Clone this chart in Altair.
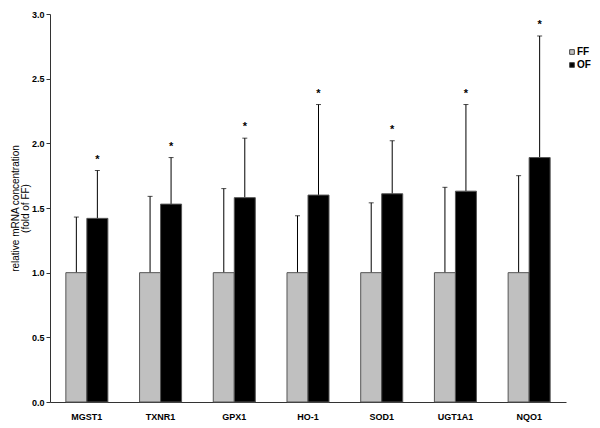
import altair as alt
import pandas as pd

genes = ["MGST1", "TXNR1", "GPX1", "HO-1", "SOD1", "UGT1A1", "NQO1"]
ff_mean = [1.0, 1.0, 1.0, 1.0, 1.0, 1.0, 1.0]
ff_upper = [1.43, 1.59, 1.65, 1.44, 1.54, 1.66, 1.75]
of_mean = [1.42, 1.53, 1.58, 1.60, 1.61, 1.63, 1.89]
of_upper = [1.79, 1.89, 2.04, 2.30, 2.02, 2.30, 2.83]
groups = ["FF", "OF"]

rows = []
for i, g in enumerate(genes):
    rows.append({"gene": g, "group": "FF", "value": ff_mean[i], "upper": ff_upper[i], "star": None})
    rows.append({"gene": g, "group": "OF", "value": of_mean[i], "upper": of_upper[i], "star": of_upper[i] + 0.1})
df = pd.DataFrame(rows)

font = "Liberation Sans"
xenc = alt.X("gene:N", sort=genes, scale=alt.Scale(paddingInner=0.43, paddingOuter=0.215),
             axis=alt.Axis(title=None, ticks=False, labelAngle=0, labelFont=font, labelFontWeight="bold",
                           labelFontSize=9, labelColor="#000", labelPadding=10,
                           domainColor="#333", domainWidth=1))
xoff = alt.XOffset("group:N", scale=alt.Scale(domain=groups, paddingInner=0, paddingOuter=0))
yscale = alt.Scale(domain=[0, 3])

base = alt.Chart(df)

rules = base.mark_rule(color="#000", strokeWidth=1).encode(
    x=xenc, xOffset=xoff,
    y=alt.Y("value:Q", scale=yscale),
    y2="upper:Q",
)
caps = base.mark_tick(color="#000", size=5, thickness=1, orient="horizontal").encode(
    x=xenc, xOffset=xoff, y=alt.Y("upper:Q", scale=yscale),
)
bars = base.mark_bar(stroke="#555", strokeWidth=1).encode(
    x=xenc, xOffset=xoff,
    y=alt.Y("value:Q", scale=yscale,
            axis=alt.Axis(title=["relative mRNA concentration", "(fold of FF)"], values=[0, 0.5, 1, 1.5, 2, 2.5, 3],
                          format=".1f", grid=False, labelFont=font, labelFontWeight="bold", labelFontSize=9,
                          labelColor="#000", tickSize=4, tickColor="#333", domainColor="#333",
                          titleFont=font, titleFontWeight="normal", titleFontSize=10, titleColor="#000",
                          titleLineHeight=10, titlePadding=1)),
    fill=alt.Fill("group:N", scale=alt.Scale(domain=groups, range=["#c0c0c0", "#000000"]),
                  legend=alt.Legend(title=None, orient="none", legendX=517, legendY=33,
                                    symbolType="square", symbolSize=22, symbolStrokeColor="#444",
                                    symbolStrokeWidth=1, labelFont=font, labelFontWeight="bold",
                                    labelFontSize=10, labelColor="#000", rowPadding=3, labelOffset=0)),
)
stars = base.transform_filter("datum.star != null").mark_text(text="*", font=font, fontWeight="bold",
                                                              fontSize=11, baseline="middle", dy=2).encode(
    x=xenc, xOffset=xoff, y=alt.Y("star:Q", scale=yscale),
)

chart = alt.layer(rules, caps, bars, stars).properties(
    width=516, height=388,
    autosize=alt.AutoSizeParams(type="none"),
    padding={"left": 42, "top": 6, "right": 26, "bottom": 20},
).configure_view(stroke=None)

chart.save("out.html", embed_options={"renderer": "svg", "actions": False})
